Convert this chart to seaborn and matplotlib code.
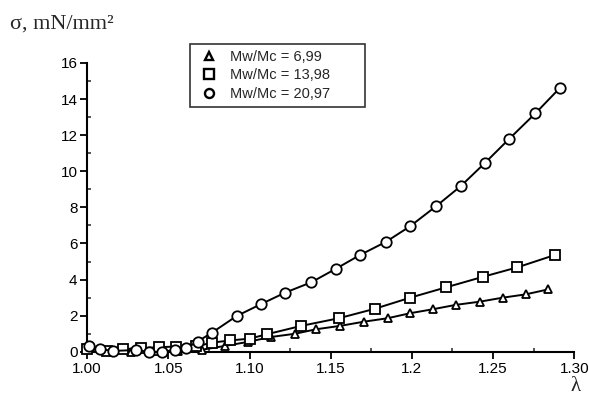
import matplotlib
matplotlib.use("Agg")
import matplotlib.pyplot as plt
import seaborn as sns
import pandas as pd
from matplotlib.lines import Line2D
from matplotlib.ticker import MultipleLocator, FixedLocator

# ---- data ----
labels = ["Mw/Mc = 6,99", "Mw/Mc = 13,98", "Mw/Mc = 20,97"]

x_699 = [1.013, 1.027, 1.042, 1.056, 1.071, 1.085, 1.099, 1.113, 1.128, 1.141,
         1.156, 1.1705, 1.185, 1.199, 1.213, 1.227, 1.242, 1.256, 1.270, 1.284]
y_699 = [0.05, 0.0, 0.05, 0.05, 0.12, 0.33, 0.55, 0.82, 1.0, 1.25,
         1.44, 1.67, 1.86, 2.14, 2.36, 2.6, 2.78, 3.0, 3.18, 3.46]

x_1398 = [1.000, 1.012, 1.022, 1.033, 1.044, 1.055, 1.067, 1.077, 1.088, 1.100,
          1.111, 1.132, 1.155, 1.177, 1.199, 1.221, 1.244, 1.265, 1.288]
y_1398 = [0.15, 0.07, 0.15, 0.2, 0.26, 0.29, 0.3, 0.51, 0.63, 0.73,
          0.98, 1.44, 1.86, 2.38, 3.0, 3.57, 4.16, 4.68, 5.36]

x_2097 = [1.001, 1.008, 1.016, 1.030, 1.038, 1.046, 1.054, 1.061, 1.068, 1.077,
          1.092, 1.107, 1.122, 1.138, 1.153, 1.168, 1.184, 1.199, 1.215, 1.230,
          1.245, 1.260, 1.276, 1.291]
y_2097 = [0.33, 0.15, 0.05, 0.1, 0.0, 0.0, 0.1, 0.2, 0.57, 1.07,
          1.98, 2.64, 3.28, 3.85, 4.59, 5.36, 6.09, 6.96, 8.07, 9.17,
          10.46, 11.8, 13.2, 14.6]

xticks = [1.00, 1.05, 1.10, 1.15, 1.20, 1.25, 1.30]
xticklabels = ["1.00", "1.05", "1.10", "1.15", "1.2", "1.25", "1.30"]
yticks = [0, 2, 4, 6, 8, 10, 12, 14, 16]

# ---- plot ----
sns.set_style("ticks")
plt.rcParams['font.family'] = ['Liberation Sans', 'DejaVu Sans']

fig = plt.figure(figsize=(5.89, 3.98), dpi=100)
ax = fig.add_axes([0.148, 0.116, 0.827, 0.726])

series = [
    (x_699, y_699, "^", 6.0),
    (x_1398, y_1398, "s", 7.0),
    (x_2097, y_2097, "o", 7.5),
]
handles = []
for (xs, ys, mk, ms), lab in zip(series, labels):
    df = pd.DataFrame({"x": xs, "y": ys})
    sns.lineplot(data=df, x="x", y="y", ax=ax, color="black", lw=1.4,
                 marker=mk, markersize=ms, markerfacecolor="white",
                 markeredgecolor="black", markeredgewidth=1.3,
                 clip_on=False, zorder=3)
    handles.append(Line2D([], [], linestyle="none", marker=mk,
                          markersize=6.5 if mk != "^" else 5.5,
                          markerfacecolor="white", markeredgecolor="black",
                          markeredgewidth=1.7, label=lab))

ax.set_xlim(1.0, 1.30)
ax.set_ylim(0, 16)
ax.xaxis.set_major_locator(FixedLocator(xticks))
ax.set_xticklabels(xticklabels)
ax.yaxis.set_major_locator(FixedLocator(yticks))
ax.xaxis.set_minor_locator(MultipleLocator(0.025))
ax.yaxis.set_minor_locator(MultipleLocator(1))
ax.tick_params(axis="both", which="major", direction="out", length=5,
               width=1.3, labelsize=11, colors="black", pad=2)
ax.tick_params(axis="both", which="minor", direction="in", length=3,
               width=1.1)
for s in ["left", "bottom"]:
    ax.spines[s].set_linewidth(1.5)
    ax.spines[s].set_color("black")
sns.despine(ax=ax)
ax.set_xlabel("")
ax.set_ylabel("")

fig.text(0.017, 0.928, "σ, mN/mm²", family=["Liberation Serif", "DejaVu Serif"],
         fontsize=16, ha="left", va="baseline")
fig.text(0.978, 0.018, "λ", family=["Liberation Serif", "DejaVu Serif"],
         fontsize=15, ha="center", va="baseline")

leg = fig.legend(handles=handles, loc="upper left",
                 bbox_to_anchor=(0.323, 0.889, 0.297, 0.0), mode="expand",
                 frameon=True, fancybox=False,
                 edgecolor="black", fontsize=10.5, handlelength=1.8,
                 handletextpad=0.5, borderpad=0.4, labelspacing=0.3,
                 borderaxespad=0)
leg.get_frame().set_linewidth(1.2)

fig.savefig("out.png", dpi=100)
